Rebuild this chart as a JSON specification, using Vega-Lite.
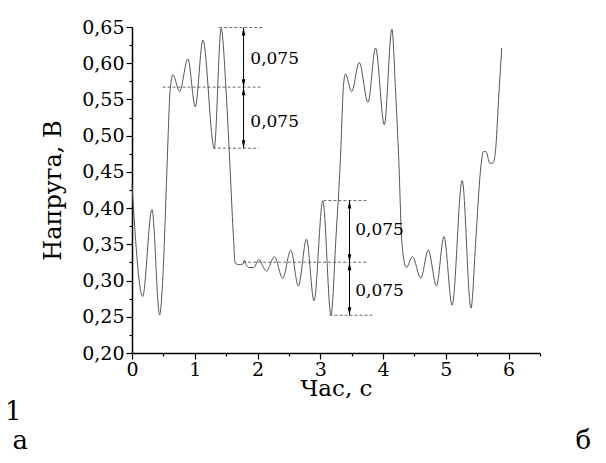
{
  "$schema": "https://vega.github.io/schema/vega-lite/v6.json",
  "width": 408,
  "height": 326,
  "autosize": "none",
  "padding": {"left": 132, "top": 27, "right": 66, "bottom": 110},
  "background": "white",
  "config": {"view": {"stroke": null}, "font": "DejaVu Serif"},
  "datasets": {
    "curve": [
      {"x": 0, "y": 0.432}, {"x": 0.169, "y": 0.278}, {"x": 0.318, "y": 0.398}, {"x": 0.44, "y": 0.2525},
      {"x": 0.5, "y": 0.32}, {"x": 0.555, "y": 0.45}, {"x": 0.61, "y": 0.565}, {"x": 0.653, "y": 0.584},
      {"x": 0.758, "y": 0.561}, {"x": 0.89, "y": 0.606}, {"x": 1.008, "y": 0.54}, {"x": 1.13, "y": 0.632},
      {"x": 1.31, "y": 0.483}, {"x": 1.42, "y": 0.648}, {"x": 1.5, "y": 0.56}, {"x": 1.565, "y": 0.45},
      {"x": 1.61, "y": 0.37}, {"x": 1.645, "y": 0.324}, {"x": 1.7, "y": 0.322}, {"x": 1.77, "y": 0.323},
      {"x": 1.79, "y": 0.328}, {"x": 1.82, "y": 0.322}, {"x": 1.86, "y": 0.318}, {"x": 1.94, "y": 0.318},
      {"x": 2.02, "y": 0.329}, {"x": 2.14, "y": 0.313}, {"x": 2.27, "y": 0.333}, {"x": 2.4, "y": 0.303},
      {"x": 2.53, "y": 0.342}, {"x": 2.65, "y": 0.2925}, {"x": 2.78, "y": 0.357}, {"x": 2.9, "y": 0.272},
      {"x": 3.04, "y": 0.41}, {"x": 3.17, "y": 0.2525}, {"x": 3.25, "y": 0.36}, {"x": 3.32, "y": 0.467},
      {"x": 3.37, "y": 0.57}, {"x": 3.4, "y": 0.585}, {"x": 3.5, "y": 0.561}, {"x": 3.62, "y": 0.601},
      {"x": 3.76, "y": 0.546}, {"x": 3.88, "y": 0.621}, {"x": 4.02, "y": 0.515}, {"x": 4.14, "y": 0.647},
      {"x": 4.2, "y": 0.56}, {"x": 4.25, "y": 0.467}, {"x": 4.3, "y": 0.352}, {"x": 4.37, "y": 0.318},
      {"x": 4.47, "y": 0.333}, {"x": 4.6, "y": 0.303}, {"x": 4.72, "y": 0.342}, {"x": 4.85, "y": 0.2925},
      {"x": 4.97, "y": 0.3607}, {"x": 5.1, "y": 0.266}, {"x": 5.26, "y": 0.438}, {"x": 5.4, "y": 0.262},
      {"x": 5.48, "y": 0.36}, {"x": 5.55, "y": 0.45}, {"x": 5.6, "y": 0.478}, {"x": 5.64, "y": 0.478},
      {"x": 5.7, "y": 0.462}, {"x": 5.75, "y": 0.462}, {"x": 5.79, "y": 0.478}, {"x": 5.84, "y": 0.55},
      {"x": 5.89, "y": 0.621}
    ],
    "hlines": [
      {"x": 1.39, "x2": 2.095, "y": 0.6493},
      {"x": 0.487, "x2": 2.07, "y": 0.567},
      {"x": 1.29, "x2": 2.016, "y": 0.4827},
      {"x": 3.05, "x2": 3.75, "y": 0.4104},
      {"x": 1.77, "x2": 3.75, "y": 0.3253},
      {"x": 3.147, "x2": 3.83, "y": 0.2521}
    ],
    "vlines": [
      {"x": 1.777, "y": 0.6493, "y2": 0.4827},
      {"x": 3.465, "y": 0.4104, "y2": 0.2521}
    ],
    "arrowsUp": [
      {"x": 1.777, "y": 0.6493}, {"x": 1.777, "y": 0.567},
      {"x": 3.465, "y": 0.4104}, {"x": 3.465, "y": 0.3253}
    ],
    "arrowsDown": [
      {"x": 1.777, "y": 0.567}, {"x": 1.777, "y": 0.4827},
      {"x": 3.465, "y": 0.3253}, {"x": 3.465, "y": 0.2521}
    ],
    "notes": [
      {"x": 1.885, "y": 0.6057, "label": "0,075"},
      {"x": 1.885, "y": 0.5195, "label": "0,075"},
      {"x": 3.557, "y": 0.370, "label": "0,075"},
      {"x": 3.557, "y": 0.286, "label": "0,075"}
    ],
    "letters": [
      {"x": -1.89, "y": 0.1185, "label": "1"},
      {"x": -1.78, "y": 0.0785, "label": "а"},
      {"x": 7.19, "y": 0.0785, "label": "б"}
    ]
  },
  "encoding": {
    "x": {
      "field": "x", "type": "quantitative",
      "scale": {"domain": [0, 6.5], "nice": false, "zero": false},
      "axis": {
        "title": "Час, с", "titleFont": "DejaVu Serif", "titleFontSize": 23, "titleFontWeight": "normal", "titleColor": "black",
        "titleBaseline": "alphabetic", "titleY": 42,
        "values": [0, 0.5, 1, 1.5, 2, 2.5, 3, 3.5, 4, 4.5, 5, 5.5, 6, 6.5],
        "labelExpr": "datum.value == round(datum.value) ? format(datum.value, 'd') : ''",
        "labelFont": "DejaVu Serif", "labelFontSize": 19, "labelColor": "black", "labelPadding": 1,
        "labelOverlap": false, "labelFlush": false,
        "tickSize": {"condition": {"test": "datum.value == round(datum.value)", "value": 6}, "value": 3},
        "tickColor": "black", "tickWidth": 1.2, "domainColor": "black", "domainWidth": 1.5, "grid": false
      }
    },
    "y": {
      "field": "y", "type": "quantitative",
      "scale": {"domain": [0.2, 0.65], "nice": false, "zero": false},
      "axis": {
        "title": "Напруга, В", "titleFont": "DejaVu Serif", "titleFontSize": 24, "titleFontWeight": "normal", "titleColor": "black",
        "titleBaseline": "alphabetic", "titleX": -72,
        "values": [0.2, 0.225, 0.25, 0.275, 0.3, 0.325, 0.35, 0.375, 0.4, 0.425, 0.45, 0.475, 0.5, 0.525, 0.55, 0.575, 0.6, 0.625, 0.65],
        "labelExpr": "abs(datum.value*20 - round(datum.value*20)) < 0.001 ? replace(format(datum.value, '.2f'), '.', ',') : ''",
        "labelFont": "DejaVu Serif", "labelFontSize": 19, "labelColor": "black", "labelPadding": 2,
        "labelOverlap": false, "labelFlush": false,
        "tickSize": {"condition": {"test": "abs(datum.value*20 - round(datum.value*20)) < 0.001", "value": 6}, "value": 3},
        "tickColor": "black", "tickWidth": 1.2, "domainColor": "black", "domainWidth": 1.5, "grid": false
      }
    }
  },
  "layer": [
    {
      "data": {"name": "curve"},
      "mark": {"type": "line", "interpolate": "monotone", "color": "#555555", "strokeWidth": 1}
    },
    {
      "data": {"name": "hlines"},
      "mark": {"type": "rule", "strokeDash": [3, 2], "color": "#444444", "strokeWidth": 0.8},
      "encoding": {"x2": {"field": "x2"}}
    },
    {
      "data": {"name": "vlines"},
      "mark": {"type": "rule", "color": "black", "strokeWidth": 1},
      "encoding": {"y2": {"field": "y2"}}
    },
    {
      "data": {"name": "arrowsUp"},
      "mark": {"type": "point", "shape": "M0,-1L-0.45,1L0.45,1Z", "filled": true, "color": "black", "size": 64, "opacity": 1, "yOffset": 4}
    },
    {
      "data": {"name": "arrowsDown"},
      "mark": {"type": "point", "shape": "M0,1L-0.45,-1L0.45,-1Z", "filled": true, "color": "black", "size": 64, "opacity": 1, "yOffset": -4}
    },
    {
      "data": {"name": "notes"},
      "mark": {"type": "text", "align": "left", "baseline": "middle", "font": "DejaVu Serif", "fontSize": 17, "color": "black"},
      "encoding": {"text": {"field": "label"}}
    },
    {
      "data": {"name": "letters"},
      "mark": {"type": "text", "align": "center", "baseline": "middle", "font": "DejaVu Serif", "fontSize": 26, "color": "black"},
      "encoding": {"text": {"field": "label"}}
    }
  ]
}
